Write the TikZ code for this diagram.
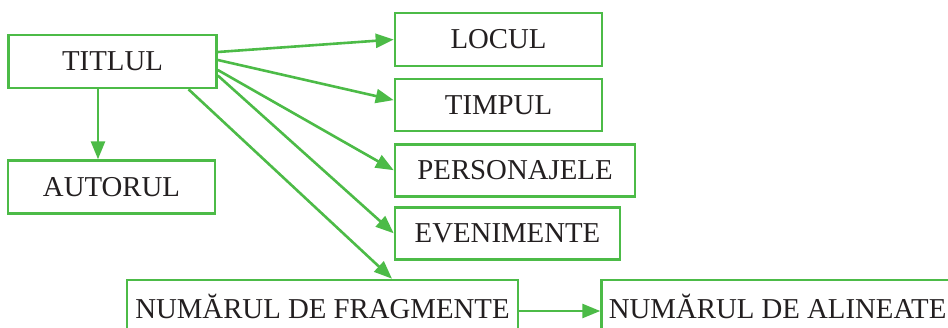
\documentclass[tikz,border=0pt]{standalone}
\usepackage{fontspec}
\setmainfont{Liberation Serif}
\usepackage{xcolor}
\usetikzlibrary{positioning, arrows.meta}
\definecolor{boxgreen}{RGB}{76,187,71}
\definecolor{inkgray}{RGB}{35,31,32}

\begin{document}
\begin{tikzpicture}[x=1pt, y=-1pt, node distance=10.5pt]
\tikzstyle{field} = [rectangle, minimum height=52pt, inner sep=0pt, text centered, draw=boxgreen, line width=2.6pt, text=inkgray, font=\fontsize{28.8}{30}\selectfont]
\tikzstyle{arrow} = [line width=2.6pt, color=boxgreen, -{Triangle[length=18pt,width=14pt]}]

\useasboundingbox (0,0) rectangle (948,327);
\clip (0,0) rectangle (948,327);

\node (titlul) [field, minimum width=208pt, minimum height=53pt] at (112.5,61.5) {TITLUL};
\node (autorul) [field, minimum width=207pt, minimum height=53pt, below=70pt of titlul, xshift=-1pt] {AUTORUL};
\node (locul) [field, minimum width=207pt, minimum height=53pt] at (498.5,39.5) {LOCUL};
\node (timpul) [field, minimum width=207pt, below=of locul.south west, anchor=north west] {TIMPUL};
\node (personajele) [field, minimum width=240pt, below=of timpul.south west, anchor=north west] {PERSONAJELE};
\node (evenimente) [field, minimum width=225pt, below=8.5pt of personajele.south west, anchor=north west] {EVENIMENTE};
\node (fragmente) [field, minimum width=391pt] at (322.5,306) {NUMĂRUL DE FRAGMENTE};
\node (alineate) [field, minimum width=352pt, right=81pt of fragmente] {NUMĂRUL DE ALINEATE};

\draw [arrow] ([yshift=9.5pt]titlul.east) -- (locul.west);
\draw [arrow] ([yshift=1.5pt]titlul.east) -- ([yshift=5pt]timpul.west);
\draw [arrow] ([yshift=-8.5pt]titlul.east) -- (personajele.west);
\draw [arrow] ([yshift=-14pt]titlul.east) -- (evenimente.west);
\draw [arrow] ([xshift=76pt]titlul.south) -- ([xshift=69.5pt]fragmente.north);
\draw [arrow] ([xshift=-14.5pt]titlul.south) -- ([xshift=-13.5pt]autorul.north);
\draw [arrow] ([yshift=-5pt]fragmente.east) -- ([yshift=-5pt]alineate.west);
\end{tikzpicture}
\end{document}
